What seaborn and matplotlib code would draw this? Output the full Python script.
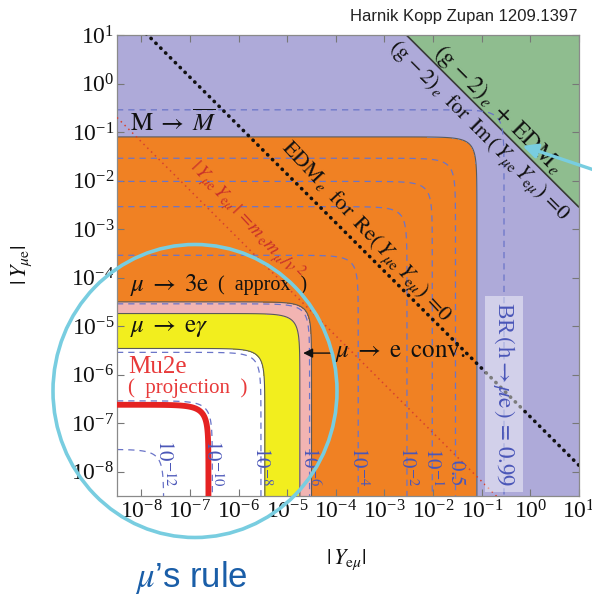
import numpy as np
import pandas as pd
import matplotlib
matplotlib.use("Agg")
import matplotlib.pyplot as plt
import seaborn as sns
from matplotlib.patches import Ellipse

# ---------------- data ----------------
axis_log_range = [-8.5, 1.0]                      # log10 |Y| range on both axes
tick_exponents = [-8, -7, -6, -5, -4, -3, -2, -1, 0, 1]

# nested excluded regions, edges in log10 sqrt(|Ymue|^2+|Yemu|^2)
region_names = ["allowed", "mu_e_gamma", "mu_e_conv", "mu_3e", "M_Mbar"]
region_log_norm_edges = [-5.46, -4.74, -4.50, -1.10]
region_colors = ["#ffffff", "#f2ee1e", "#f2b4b2", "#f08123", "#aeaad9"]

g2_edm_log_product = -1.55       # (g-2)_e + EDM_e bound on |Ymue Yemu|
edm_re_log_product = -6.87       # EDM_e for Re(...)=0
mass_log_product = -9.2          # |Ymue Yemu| = m_e m_mu / v^2
mu2e_log_norm = -6.62            # Mu2e projection

br_log_c0 = -3.08
br_levels = [1e-12, 1e-10, 1e-8, 1e-6, 1e-4, 1e-2, 1e-1, 0.5, 0.99]
br_labels = [r"$10^{-12}$", r"$10^{-10}$", r"$10^{-8}$", r"$10^{-6}$", r"$10^{-4}$",
             r"$10^{-2}$", r"$10^{-1}$", r"$0.5$",
             r"BR$\,(\,\mathrm{h}\rightarrow\mu\mathrm{e}\,)\,=\,0.99$"]

# ---------------- style ----------------
sns.set_theme(style="ticks")
plt.rcParams["font.family"] = ["Liberation Serif", "DejaVu Serif"]
plt.rcParams["mathtext.fontset"] = "stix"
plt.rcParams["axes.unicode_minus"] = True
plt.rcParams["contour.negative_linestyle"] = "solid"

fig = plt.figure(figsize=(5.92, 6.04), dpi=100)
ax = fig.add_axes([117/592, 1-496/604, 462/592, 461/604])
ax.set_xscale("log")
ax.set_yscale("log")
lo, hi = 10**axis_log_range[0], 10**axis_log_range[1]
ax.set_xlim(lo, hi)
ax.set_ylim(lo, hi)

g = np.logspace(axis_log_range[0], axis_log_range[1], 900)
X, Y = np.meshgrid(g, g)
R2 = X**2 + Y**2
LR = 0.5*np.log10(R2)
LP = np.log10(X*Y)

# region fills
levels = [-20] + region_log_norm_edges + [5]
ax.contourf(X, Y, LR, levels=levels, colors=region_colors, zorder=0)
ax.contour(X, Y, LR, levels=region_log_norm_edges, colors="#5a5a5a", linewidths=0.8,
           linestyles="solid", zorder=1)
ax.contourf(X, Y, LP, levels=[g2_edm_log_product, 5], colors=["#8fbd8f"], zorder=0.5)
ax.contour(X, Y, LP, levels=[g2_edm_log_product], colors="#3a3a3a", linewidths=1.2,
           linestyles="solid", zorder=1)

# BR(h->mu e) dashed contours
BR = R2/(R2 + 10**br_log_c0)
ax.contour(X, Y, BR, levels=br_levels, colors="#6a74c8", linewidths=0.9,
           linestyles=[(0, (5, 4))], zorder=2)

# straight lines
xs = np.logspace(axis_log_range[0], axis_log_range[1], 300)
lines = pd.DataFrame({"x": xs, "edm": 10**edm_re_log_product/xs, "mass": 10**mass_log_product/xs})
sns.lineplot(data=lines, x="x", y="mass", ax=ax, color="#d8402e", lw=1.1,
             linestyle=(0, (1, 2.5)), sort=False, estimator=None, zorder=3)
sns.lineplot(data=lines, x="x", y="edm", ax=ax, color="#111111", lw=2.6,
             linestyle=(0, (0.1, 1.8)), dash_capstyle="round", sort=False, estimator=None, zorder=3)

# Mu2e projection
ax.contour(X, Y, LR, levels=[mu2e_log_norm], colors="#e52222", linewidths=4.2,
           linestyles="solid", zorder=4)

# contour labels
for lev, lab in zip(br_levels, br_labels):
    xr = np.sqrt(10**br_log_c0*lev/(1-lev))
    kw = dict(rotation=-90, ha="center", va="bottom", color="#4a56b8", fontsize=15, zorder=5)
    if lev == 0.99:
        kw["bbox"] = dict(boxstyle="square,pad=0.25", fc="white", ec="none", alpha=0.45)
        kw["fontsize"] = 16.5
    ax.text(xr, 10**-8.3, lab, **kw)

# region texts (axes fraction)
T = ax.transAxes
ax.text(0.028, 0.811, r"$\mathrm{M}\;\rightarrow\;\overline{M}$", transform=T, fontsize=18,
        ha="left", va="center", color="#111", zorder=6)
ax.text(0.279, 0.597, r"$|\,Y_{\mu\mathrm{e}}\,Y_{\mathrm{e}\mu}\,|\,=\!m_{\,\mathrm{e}}m_{\,\mu}/v^{\,2}$",
        transform=T, fontsize=14, rotation=-47, ha="center", va="center", color="#c8302a", zorder=6)
ax.text(0.537, 0.573, r"$\mathrm{EDM}_{\,e}\;\;\mathrm{for}\;\;\mathrm{Re}(\,Y_{\mu\mathrm{e}}\,Y_{\mathrm{e}\mu})\,=\!0$",
        transform=T, fontsize=16, rotation=-47, ha="center", va="center", color="#111", zorder=6)
ax.text(0.783, 0.792, r"$(\mathrm{g}\,-2)_{\,e}\;\;\mathrm{for}\;\;\mathrm{Im}\,(\,Y_{\mu\mathrm{e}}\,Y_{\mathrm{e}\mu})\,=\!0$",
        transform=T, fontsize=15.5, rotation=-45, ha="center", va="center", color="#111", zorder=6)
ax.text(0.825, 0.837, r"$(\mathrm{g}\,-2)_{\,e}\;+\;\mathrm{EDM}_{\,e}$",
        transform=T, fontsize=17, rotation=-45, ha="center", va="center", color="#111", zorder=6)
ax.text(0.028, 0.458, r"$\mu\;\rightarrow\;3\mathrm{e}$", transform=T, fontsize=18,
        ha="left", va="center", color="#111", zorder=6)
ax.text(0.219, 0.458, "(  approx  )", transform=T, fontsize=14.5,
        ha="left", va="center", color="#111", zorder=6)
ax.text(0.028, 0.364, r"$\mu\;\rightarrow\;\mathrm{e}\gamma$", transform=T, fontsize=18,
        ha="left", va="center", color="#111", zorder=6)
ax.text(0.024, 0.280, "Mu2e", transform=T, fontsize=18, ha="left", va="center", color="#e83a3a", zorder=6)
ax.text(0.024, 0.234, "(  projection  )", transform=T, fontsize=15, ha="left", va="center",
        color="#e83a3a", zorder=6)
ax.annotate(r"$\mu\;\rightarrow\;\mathrm{e}\;\;\mathrm{conv.}$", xy=(0.403, 0.310), xytext=(0.472, 0.310),
            xycoords=T, textcoords=T, fontsize=18, ha="left", va="center", color="#111", zorder=6,
            arrowprops=dict(arrowstyle="-|>", color="#111", lw=1.0, mutation_scale=14,
                            shrinkA=0, shrinkB=0))

# ticks / spines
ax.set_xticks([10.0**e for e in tick_exponents])
ax.set_yticks([10.0**e for e in tick_exponents])
ax.tick_params(which="both", direction="in", top=True, right=True, colors="#777777",
               labelcolor="#111111", labelsize=17)
ax.tick_params(which="major", length=5, width=0.8)
ax.tick_params(which="minor", length=2.5, width=0.6)
ax.tick_params(axis="x", pad=3)
ax.tick_params(axis="y", pad=2)
for s in ax.spines.values():
    s.set_color("#8a8a8a")
    s.set_linewidth(0.9)
ax.set_xlabel("")
ax.set_ylabel("")

fig.text(346/592, 1-560/604, r"$|\,Y_{\mathrm{e}\mu}|$", fontsize=16, ha="center", va="center", color="#111")
fig.text(22/592, 1-265/604, r"$|\,Y_{\mu\mathrm{e}}|$", fontsize=16, ha="center", va="center",
         rotation=90, color="#111")
fig.text(578/592, 1-17/604, "Harnik Kopp Zupan 1209.1397", fontsize=12, ha="right", va="center",
         family=["Liberation Sans", "DejaVu Sans"], color="#222")

# highlight annotations
fig.add_artist(Ellipse((195/592, 1-391/604), 284/592, 293/604, transform=fig.transFigure,
                       fill=False, ec="#78cde0", lw=2.6, zorder=10))
fig.add_artist(matplotlib.patches.FancyArrowPatch((600/592, 1-172/604), (520/592, 1-145/604),
               transform=fig.transFigure, arrowstyle="-|>", mutation_scale=22, color="#78cde0",
               lw=2.4, zorder=10))
fig.text(191/592, 1-578/604, r"$\mu$’s rule", fontsize=25, ha="center", va="center",
         family=["Liberation Sans", "DejaVu Sans"], color="#1a5ea8")

fig.savefig("out.png", dpi=100)
